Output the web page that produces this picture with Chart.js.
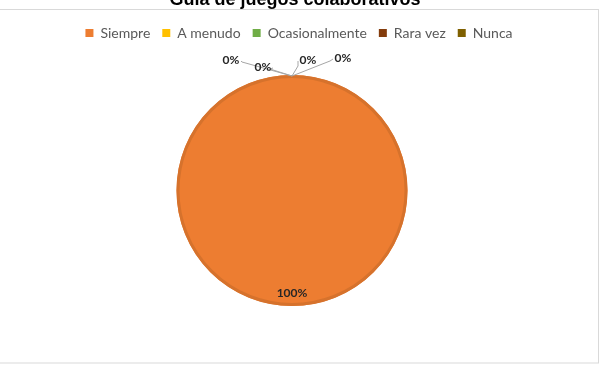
<!DOCTYPE html>
<html>
<head>
<meta charset="utf-8">
<script src="https://cdn.jsdelivr.net/npm/chart.js@4/dist/chart.umd.min.js"></script>
<style>
    html, body { margin: 0; padding: 0; background: #fff; }
    #wrap { width: 602px; height: 366px; position: relative; }
</style>
</head>
<body>
<div id="wrap"><canvas id="pieChart" width="602" height="366"></canvas></div>
<script>
// Chart data
const chartTitle = "Guía de juegos colaborativos";
const categories = ["Siempre", "A menudo", "Ocasionalmente", "Rara vez", "Nunca"];
const values = [100, 0, 0, 0, 0];
const sliceColors = ["#ed7d31", "#ffc000", "#70ad47", "#843c0c", "#7f6000"];
const valueLabels = ["100%", "0%", "0%", "0%", "0%"];

// Frame + clipped title (the Excel chart area sits below the title)
const framePlugin = {
    id: "frame",
    beforeInit(chart) {
        // leave a gap between the legend and the pie, nudge legend a bit
        const fit = chart.legend.fit;
        chart.legend.fit = function () {
            fit.bind(chart.legend)();
            this.height += 25;
        };
        const draw = chart.legend.draw;
        chart.legend.draw = function () {
            chart.ctx.save();
            chart.ctx.translate(7, 0);
            draw.bind(chart.legend)();
            chart.ctx.restore();
        };
    },
    beforeDraw(chart) {
        let ctx = chart.ctx;
        ctx.save();
        ctx.fillStyle = "#fff";
        ctx.fillRect(0, 0, chart.width, chart.height);
        ctx.strokeStyle = "#d9d9d9";
        ctx.lineWidth = 1;
        ctx.strokeRect(-1, 9.5, 599.5, 353.5);
        ctx.fillStyle = "#000";
        ctx.font = "bold 18px 'Liberation Sans', Arial, sans-serif";
        ctx.textAlign = "center";
        ctx.textBaseline = "alphabetic";
        ctx.fillText(chartTitle, 295, 5);
        ctx.restore();
    }
};

// Outline of the pie + percentage labels, zero slices get leader lines
const zeroOffsets = [null, [-61, -15, -50, -13], [-29, -8, -22, -6], [16, -15, 6, -9], [51, -17, 38, -14]];
const labelPlugin = {
    id: "pctLabels",
    afterDatasetsDraw(chart) {
        let ctx = chart.ctx;
        let arcs = chart.getDatasetMeta(0).data;
        ctx.save();
        let a0 = arcs[0];
        ctx.strokeStyle = "#d6722c";
        ctx.lineWidth = 3;
        ctx.beginPath();
        ctx.arc(a0.x, a0.y, a0.outerRadius - 1.5, 0, Math.PI * 2);
        ctx.stroke();

        ctx.font = "bold 12px Lato, 'Open Sans', sans-serif";
        ctx.textAlign = "center";
        ctx.textBaseline = "middle";
        arcs.forEach((arc, i) => {
            let cx = arc.x, cy = arc.y, r = arc.outerRadius;
            if (values[i] > 0) {
                ctx.fillStyle = "#262626";
                ctx.fillText(valueLabels[i], cx, cy + r - 13);
                return;
            }
            let o = zeroOffsets[i];
            let tx = cx + o[0], ty = cy - r + o[1];
            let ex = cx + o[2], ey = cy - r + o[3];
            ctx.strokeStyle = "#a6a6a6";
            ctx.lineWidth = 1;
            ctx.beginPath();
            ctx.moveTo(cx, cy - r + 1);
            ctx.lineTo(ex, ey);
            ctx.lineTo(tx + (o[0] < 0 ? 10 : -10), ty + 1);
            ctx.stroke();
            ctx.fillStyle = "#262626";
            ctx.fillText(valueLabels[i], tx, ty);
        });
        ctx.restore();
    }
};

let ctx = document.getElementById("pieChart").getContext("2d");
new Chart(ctx, {
    type: "pie",
    data: {
        labels: categories,
        datasets: [{
            data: values,
            backgroundColor: sliceColors,
            borderWidth: 0
        }]
    },
    options: {
        responsive: false,
        animation: false,
        layout: { padding: { top: 14, bottom: 60, left: 0, right: 18 } },
        plugins: {
            legend: {
                position: "top",
                labels: {
                    boxWidth: 8,
                    boxHeight: 8,
                    padding: 12,
                    color: "#595959",
                    font: { size: 14, family: "Lato, 'Open Sans', sans-serif" },
                    generateLabels(chart) {
                        return categories.map((c, i) => ({
                            text: c,
                            fillStyle: sliceColors[i],
                            strokeStyle: sliceColors[i],
                            lineWidth: 0,
                            fontColor: "#595959",
                            index: i,
                            hidden: false
                        }));
                    }
                }
            },
            tooltip: { enabled: false }
        }
    },
    plugins: [framePlugin, labelPlugin]
});
</script>
</body>
</html>
